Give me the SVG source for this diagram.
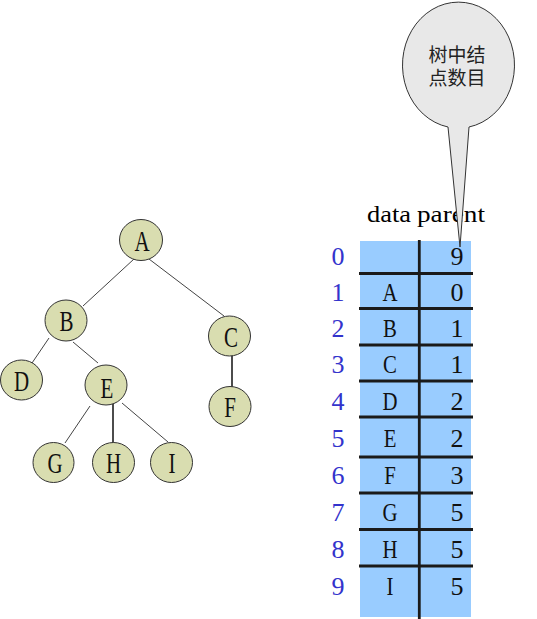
<svg xmlns="http://www.w3.org/2000/svg" width="537" height="619" viewBox="0 0 537 619">
  <style>
    .node ellipse { fill: #d9ddb0; stroke: #333; stroke-width: 1; }
    .node text { font-family: "Liberation Serif", serif; font-size: 30px; fill: #111; text-anchor: middle; transform-box: fill-box; transform-origin: center; transform: scaleX(0.7); }
    .edge { stroke: #444; stroke-width: 1; fill: none; }
    .edge.dark { stroke: #111; stroke-width: 1.5; }
    .rowline { stroke: #1a1a1a; stroke-width: 3; }
    .idx { font-family: "Liberation Serif", serif; font-size: 26px; fill: #3333cc; text-anchor: middle; }
    .dat { font-family: "Liberation Serif", serif; font-size: 26px; fill: #111; text-anchor: middle; transform-box: fill-box; transform-origin: center; transform: scaleX(0.8); }
    .par { font-family: "Liberation Serif", serif; font-size: 26px; fill: #111; text-anchor: middle; }
    .hdr { font-family: "Liberation Serif", serif; font-size: 24px; fill: #000; }
    .callout { fill: #e8e8e8; stroke: #333; stroke-width: 1; }
    .ctext { font-family: "Noto Sans CJK SC", sans-serif; font-size: 19px; fill: #222; text-anchor: middle; }
  </style>

  <!-- connectors -->
  <g id="connectors">
    <line class="edge" x1="134" y1="259" x2="83" y2="306"/>
    <line class="edge" x1="149" y1="259" x2="224" y2="316"/>
    <line class="edge" x1="49" y1="338" x2="32" y2="363"/>
    <line class="edge" x1="73" y1="342" x2="98" y2="363"/>
    <line class="edge" x1="90" y1="406" x2="65" y2="443"/>
    <line class="edge dark" x1="113" y1="403" x2="113" y2="443"/>
    <line class="edge" x1="122" y1="403" x2="168" y2="442"/>
    <line class="edge dark" x1="232" y1="355" x2="232" y2="387"/>
  </g>

  <!-- tree nodes -->
  <g id="node-A" class="node"><ellipse cx="141" cy="240" rx="21.5" ry="20.5"/><text x="142" y="251.5">A</text></g>
  <g id="node-B" class="node"><ellipse cx="66" cy="320.5" rx="21" ry="20.5"/><text x="66.5" y="331.5">B</text></g>
  <g id="node-C" class="node"><ellipse cx="229.5" cy="336" rx="21" ry="20"/><text x="231" y="347.5">C</text></g>
  <g id="node-D" class="node"><ellipse cx="21.5" cy="380" rx="21" ry="20"/><text x="21.5" y="391.5">D</text></g>
  <g id="node-E" class="node"><ellipse cx="106" cy="385" rx="21" ry="20"/><text x="107" y="398">E</text></g>
  <g id="node-F" class="node"><ellipse cx="230" cy="406.5" rx="21" ry="20"/><text x="230" y="417.5">F</text></g>
  <g id="node-G" class="node"><ellipse cx="53.5" cy="462.5" rx="20.5" ry="20"/><text x="55" y="473.5">G</text></g>
  <g id="node-H" class="node"><ellipse cx="113.5" cy="462.5" rx="21" ry="20"/><text x="113.5" y="473.5">H</text></g>
  <g id="node-I" class="node"><ellipse cx="171.5" cy="462.5" rx="21" ry="20"/><text x="172" y="473.5">I</text></g>

  <!-- table -->
  <g id="table">
    <rect x="360" y="241" width="111" height="376" fill="#99ccff"/>
    <line class="rowline" x1="359" y1="273.5" x2="473" y2="273.5"/>
    <line class="rowline" x1="359" y1="308.5" x2="473" y2="308.5"/>
    <line class="rowline" x1="359" y1="345" x2="473" y2="345"/>
    <line class="rowline" x1="359" y1="381" x2="473" y2="381"/>
    <line class="rowline" x1="359" y1="417" x2="473" y2="417"/>
    <line class="rowline" x1="359" y1="457" x2="473" y2="457"/>
    <line class="rowline" x1="359" y1="493" x2="473" y2="493"/>
    <line class="rowline" x1="359" y1="529.5" x2="473" y2="529.5"/>
    <line class="rowline" x1="359" y1="566" x2="473" y2="566"/>
    <line x1="419.3" y1="240" x2="419.3" y2="619" stroke="#1a1a1a" stroke-width="2.8"/>

    <text class="idx" x="338" y="265">0</text>
    <text class="idx" x="338" y="301">1</text>
    <text class="idx" x="338" y="337">2</text>
    <text class="idx" x="338" y="373">3</text>
    <text class="idx" x="338" y="410">4</text>
    <text class="idx" x="338" y="447">5</text>
    <text class="idx" x="338" y="484">6</text>
    <text class="idx" x="338" y="521">7</text>
    <text class="idx" x="338" y="558">8</text>
    <text class="idx" x="338" y="595">9</text>

    <text class="dat" x="390" y="301">A</text>
    <text class="dat" x="390" y="337">B</text>
    <text class="dat" x="390" y="373">C</text>
    <text class="dat" x="390" y="410">D</text>
    <text class="dat" x="390" y="447">E</text>
    <text class="dat" x="390" y="484">F</text>
    <text class="dat" x="390" y="521">G</text>
    <text class="dat" x="390" y="558">H</text>
    <text class="dat" x="390" y="595">I</text>

    <text class="par" x="457" y="265">9</text>
    <text class="par" x="457" y="301">0</text>
    <text class="par" x="457" y="337">1</text>
    <text class="par" x="457" y="373">1</text>
    <text class="par" x="457" y="410">2</text>
    <text class="par" x="457" y="447">2</text>
    <text class="par" x="457" y="484">3</text>
    <text class="par" x="457" y="521">5</text>
    <text class="par" x="457" y="558">5</text>
    <text class="par" x="457" y="595">5</text>

    <text class="hdr" x="367" y="222" textLength="44" lengthAdjust="spacingAndGlyphs">data</text>
    <text class="hdr" x="417" y="222" textLength="68" lengthAdjust="spacingAndGlyphs">parent</text>
  </g>

  <!-- callout -->
  <g id="callout">
    <path class="callout" d="M448,127 A56,63 0 1 1 469,127 L460,247 Z"/>
    <text class="ctext" x="457" y="62">树中结<tspan x="457" dy="23">点数目</tspan></text>
  </g>
</svg>
